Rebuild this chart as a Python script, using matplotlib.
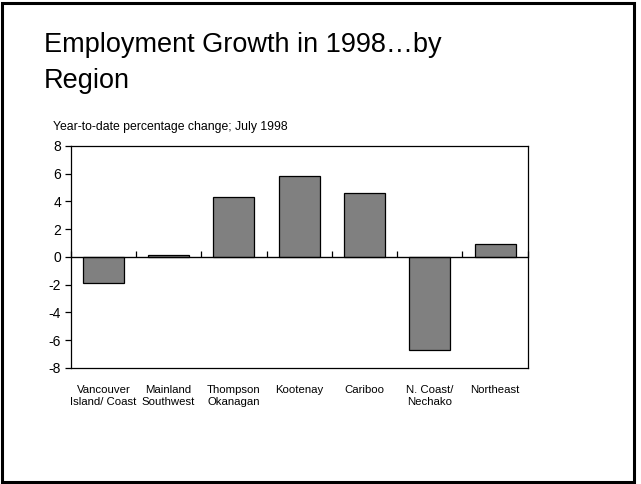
import numpy as np
import matplotlib
matplotlib.use('Agg')
from matplotlib import pyplot as plt
from matplotlib.patches import Rectangle

plt.rcParams['font.family'] = ['Liberation Sans', 'DejaVu Sans']

regions = ['Vancouver\nIsland/ Coast', 'Mainland\nSouthwest', 'Thompson\nOkanagan',
           'Kootenay', 'Cariboo', 'N. Coast/\nNechako', 'Northeast']
growth = [-1.85, 0.15, 4.3, 5.85, 4.6, -6.7, 0.9]
yticks = [-8, -6, -4, -2, 0, 2, 4, 6, 8]

fig = plt.figure(figsize=(6.41, 4.84), dpi=100)

# slide frame
fig.patches.append(Rectangle((0.003, 0.004), 0.986, 0.99, transform=fig.transFigure,
                             fill=False, edgecolor='black', linewidth=2.2))

fig.text(0.069, 0.893, 'Employment Growth in 1998\u2026by', fontsize=19.5, va='baseline')
fig.text(0.069, 0.818, 'Region', fontsize=19.5, va='baseline')
fig.text(0.083, 0.737, 'Year-to-date percentage change; July 1998', fontsize=8.8, va='center')

ax = fig.add_axes([0.1103, 0.2397, 0.713, 0.4587])
x = np.arange(len(regions))
ax.bar(x, growth, width=0.63, color='#808080', edgecolor='black', linewidth=0.9, zorder=2)
ax.axhline(0, color='black', linewidth=0.9, zorder=3)

ax.set_xlim(-0.5, len(regions) - 0.5)
ax.set_ylim(-8, 8)
ax.set_yticks(yticks)
ax.set_yticklabels([str(v) for v in yticks], fontsize=10)
ax.tick_params(axis='y', direction='out', length=4, width=0.9, pad=3)

ax.set_xticks(x)
ax.set_xticklabels(regions, fontsize=8.2)
ax.tick_params(axis='x', length=0, pad=12)
for lbl in ax.get_xticklabels():
    lbl.set_linespacing(1.3)

for s in ax.spines.values():
    s.set_linewidth(0.9)

# category separators on the zero line
sec = ax.secondary_xaxis(0.5)
sec.set_xticks(np.arange(len(regions) + 1) - 0.5)
sec.set_xticklabels([])
sec.tick_params(direction='out', length=4, width=0.9)
sec.spines['bottom'].set_visible(False)

fig.savefig('out.png', dpi=100)
